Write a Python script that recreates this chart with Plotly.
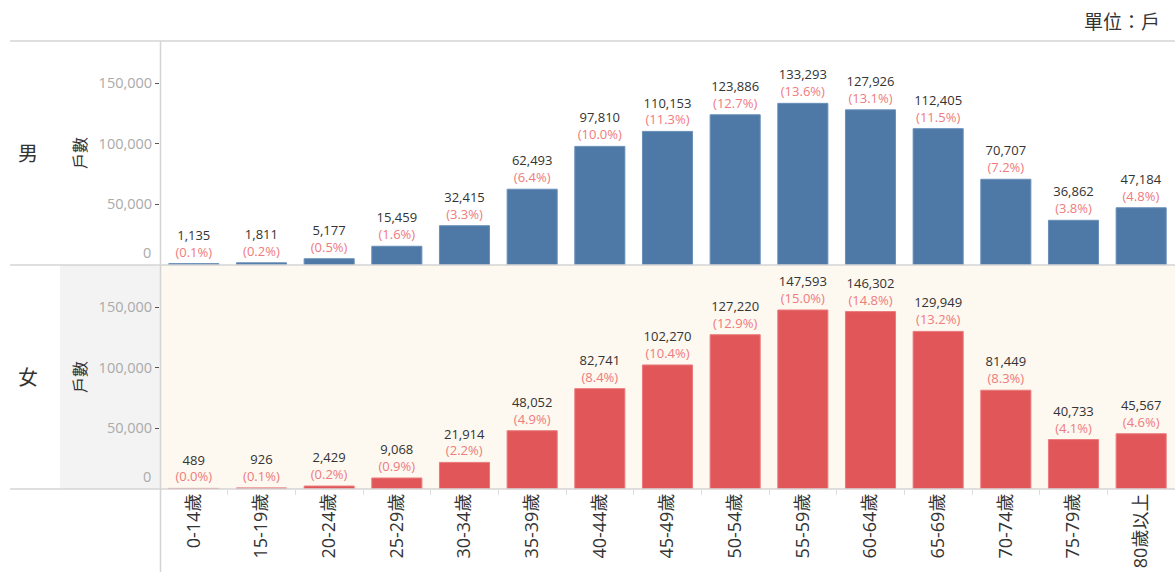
import plotly.graph_objects as go

W, H = 1175, 572

categories = ["0-14歲", "15-19歲", "20-24歲", "25-29歲", "30-34歲", "35-39歲", "40-44歲",
              "45-49歲", "50-54歲", "55-59歲", "60-64歲", "65-69歲", "70-74歲", "75-79歲", "80歲以上"]
male_values = [1135, 1811, 5177, 15459, 32415, 62493, 97810, 110153, 123886, 133293,
               127926, 112405, 70707, 36862, 47184]
male_pct = ["0.1%", "0.2%", "0.5%", "1.6%", "3.3%", "6.4%", "10.0%", "11.3%", "12.7%", "13.6%",
            "13.1%", "11.5%", "7.2%", "3.8%", "4.8%"]
female_values = [489, 926, 2429, 9068, 21914, 48052, 82741, 102270, 127220, 147593,
                 146302, 129949, 81449, 40733, 45567]
female_pct = ["0.0%", "0.1%", "0.2%", "0.9%", "2.2%", "4.9%", "8.4%", "10.4%", "12.9%", "15.0%",
              "14.8%", "13.2%", "8.3%", "4.1%", "4.6%"]
row_labels = ["男", "女"]
y_ticks = [50000, 100000, 150000]
zero_label = "0"
unit_label = "單位：戶"
y_title = "戶數"

FONT = "Open Sans, Noto Sans CJK TC, sans-serif"
PCT_COLOR = "#ef7b7e"
MALE_COLOR = "#4e79a7"
FEMALE_COLOR = "#e15759"
TICK_COLOR = "#aaaaaa"


def px_y(y):
    return 1 - y / H


def px_x(x):
    return x / W


def labels(vals, pcts):
    return [f"{v:,}<br><span style='color:{PCT_COLOR}'>({p})</span>" for v, p in zip(vals, pcts)]


fig = go.Figure()
fig.add_trace(go.Bar(x=categories, y=male_values, text=labels(male_values, male_pct),
                     textposition="outside", cliponaxis=False, width=0.74,
                     marker=dict(color=MALE_COLOR, line=dict(color="#6a8fb8", width=1)),
                     textfont=dict(size=13, color="#333333", family=FONT),
                     xaxis="x", yaxis="y", showlegend=False, hoverinfo="x+y"))
fig.add_trace(go.Bar(x=categories, y=female_values, text=labels(female_values, female_pct),
                     textposition="outside", cliponaxis=False, width=0.74,
                     marker=dict(color=FEMALE_COLOR, line=dict(color="#ea7a7c", width=1)),
                     textfont=dict(size=13, color="#333333", family=FONT),
                     xaxis="x2", yaxis="y2", showlegend=False, hoverinfo="x+y"))

x_dom = [px_x(160), 1.0]
male_dom = [px_y(265), px_y(41)]
female_dom = [px_y(489), px_y(265)]
yr = [0, 184700]

yaxis_common = dict(range=yr, tickvals=y_ticks, tickformat=",", ticks="outside", ticklen=4,
                    tickcolor="#555555", tickfont=dict(size=14.5, color=TICK_COLOR, family=FONT),
                    showgrid=False, zeroline=False, showline=False, fixedrange=True,
                    automargin=False)

fig.update_layout(
    width=W, height=H,
    margin=dict(l=0, r=0, t=0, b=0, autoexpand=False),
    paper_bgcolor="white", plot_bgcolor="rgba(0,0,0,0)",
    font=dict(family=FONT),
    xaxis=dict(domain=x_dom, anchor="y", showticklabels=False, ticks="", showgrid=False,
               zeroline=False, showline=False, automargin=False),
    xaxis2=dict(domain=x_dom, anchor="y2", showgrid=False, zeroline=False, showline=False,
                tickangle=-90, ticks="outside", tickson="boundaries", ticklen=5,
                tickcolor="#dddddd", tickfont=dict(size=18, color="#333333", family=FONT),
                automargin=False),
    yaxis=dict(domain=male_dom, anchor="x", **yaxis_common),
    yaxis2=dict(domain=female_dom, anchor="x2", **yaxis_common),
)

shapes = []
shapes.append(dict(type="rect", xref="paper", yref="paper", x0=px_x(160), x1=1, y0=female_dom[0],
                   y1=female_dom[1], fillcolor="#fdf8f0", line=dict(width=0), layer="below"))
shapes.append(dict(type="rect", xref="paper", yref="paper", x0=px_x(60), x1=px_x(160), y0=female_dom[0],
                   y1=female_dom[1], fillcolor="#f3f3f3", line=dict(width=0), layer="below"))
for yy in [41, 265, 489]:
    shapes.append(dict(type="line", xref="paper", yref="paper", x0=px_x(10), x1=1, y0=px_y(yy), y1=px_y(yy),
                       line=dict(color="#d4d4d4", width=1.5), layer="above"))
shapes.append(dict(type="line", xref="paper", yref="paper", x0=px_x(160.5), x1=px_x(160.5), y0=px_y(41), y1=0,
                   line=dict(color="#d4d4d4", width=1.5), layer="above"))
fig.update_layout(shapes=shapes)

ann = []
ann.append(dict(text=unit_label, xref="paper", yref="paper", x=px_x(1162), y=px_y(22), xanchor="right",
                yanchor="middle", showarrow=False, font=dict(size=19, color="#333333", family=FONT)))
for lab, yc, yref in zip(row_labels, [153, 377], ["y", "y2"]):
    ann.append(dict(text=lab, xref="paper", yref="paper", x=px_x(28), y=px_y(yc), xanchor="center",
                    yanchor="middle", showarrow=False, font=dict(size=20, color="#333333", family=FONT)))
    ann.append(dict(text=y_title, xref="paper", yref="paper", x=px_x(80), y=px_y(yc), xanchor="center",
                    yanchor="middle", textangle=-90, showarrow=False,
                    font=dict(size=16, color="#333333", family=FONT)))
    ann.append(dict(text=zero_label, xref="paper", yref=yref, x=px_x(153), y=0, xanchor="right",
                    yanchor="bottom", yshift=1, showarrow=False,
                    font=dict(size=14.5, color=TICK_COLOR, family=FONT)))
fig.update_layout(annotations=ann)

fig.write_html("out.html", config={"displayModeBar": False},
               post_script="document.body.style.margin='0';document.body.style.overflow='hidden';")
